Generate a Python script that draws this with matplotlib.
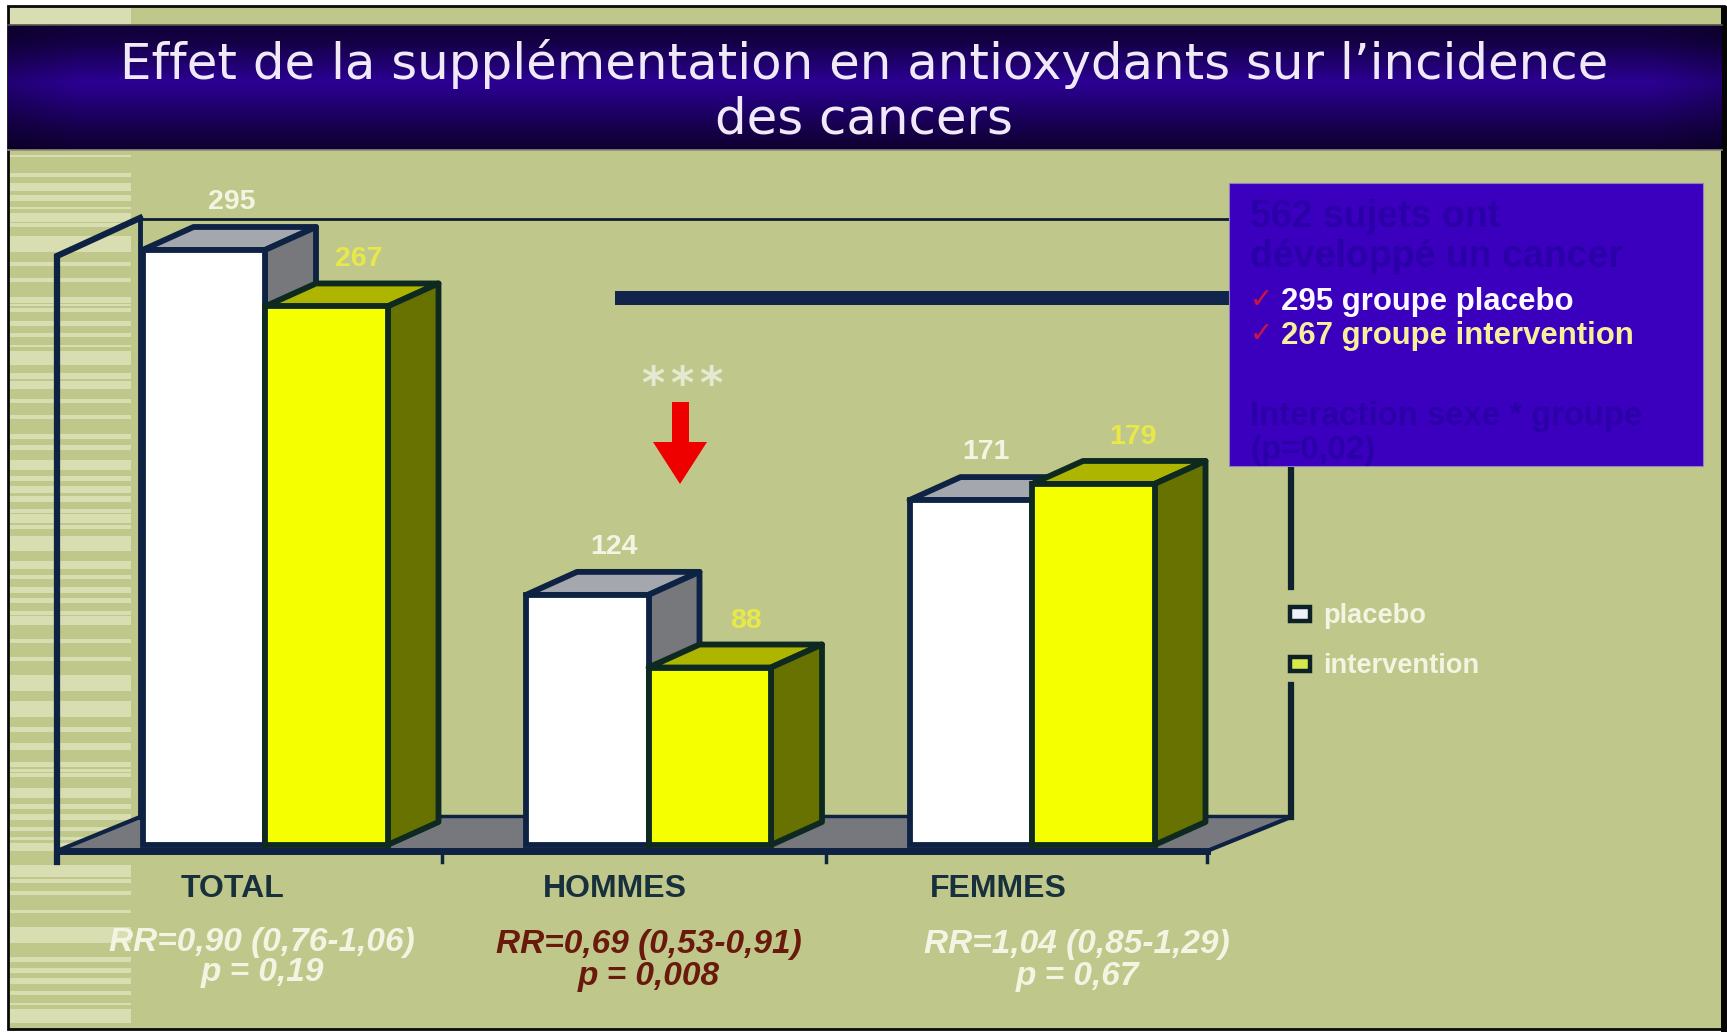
import numpy as np
import matplotlib as mp
mp.use("Agg")
import matplotlib.pyplot as plt
from matplotlib.patches import Polygon, Rectangle

plt.rcParams['font.family'] = ['Liberation Sans', 'DejaVu Sans']

# data
groups = ["TOTAL", "HOMMES", "FEMMES"]
placebo = [295, 124, 171]
intervention = [267, 88, 179]
rr_text = ["RR=0,90 (0,76-1,06)", "RR=0,69 (0,53-0,91)", "RR=1,04 (0,85-1,29)"]
p_text = ["p = 0,19", "p = 0,008", "p = 0,67"]
title_lines = ["Effet de la supplémentation en antioxydants sur l’incidence", "des cancers"]
series_names = ["placebo", "intervention"]

W, H = 1727, 1032
bg_col = "#bfc88a"
stripe_col = "#d8ddb2"
navy = "#0e2344"
white_txt = "#f3f4e2"
yellow_txt = "#e8e84a"

# light bands at the left of the slide (top, bottom in pixels)
stripes = [(8, 25),
           (155, 157), (173, 177), (183, 191), (195, 201), (207, 209), (213, 222), (223, 227), (236, 252),
           (262, 266), (278, 282), (297, 303), (304, 306), (308, 312), (321, 326), (333, 337), (345, 347),
           (351, 365), (373, 379), (381, 389), (399, 403), (415, 419), (434, 439), (445, 450),
           (460, 470), (476, 481), (486, 493), (496, 502), (509, 513), (514, 523), (525, 529), (536, 551),
           (561, 569), (575, 579), (587, 593), (598, 603), (611, 615), (616, 625), (639, 643), (657, 661),
           (675, 691), (701, 717), (727, 732), (743, 750),
           (762, 767), (769, 772), (773, 777), (788, 798), (804, 809), (814, 820), (827, 831), (837, 840),
           (843, 851), (865, 877), (879, 883), (891, 895), (910, 913), (927, 943), (957, 962), (968, 973),
           (978, 984), (991, 995), (1003, 1005), (1009, 1023)]

fig = plt.figure(figsize=(W/100, H/100), dpi=100, facecolor='white')

# background layer, in pixels
ax_bg = fig.add_axes([0, 0, 1, 1], zorder=0)
ax_bg.axis('off')
ax_bg.add_patch(Rectangle((8, 6), 1716, 1023, facecolor=bg_col, edgecolor='#0a0a0a', lw=2))
ax_bg.add_patch(Rectangle((1721, 6), 6, 1026, facecolor='#050505', edgecolor='none'))
for y0, y1 in stripes:
    ax_bg.add_patch(Rectangle((10, y0), 121, y1-y0, facecolor=stripe_col, edgecolor='none'))

yy = np.linspace(0, 1, 128)
xx = np.linspace(0, 1, 256)
v = np.interp(yy, [0, 0.12, 0.46, 0.8, 1], [0.38, 0.45, 1.0, 0.55, 0.32])
edge = np.clip(np.minimum(xx, 1-xx)/0.04, 0, 1)*0.2+0.8
shade = np.outer(v, edge)
banner = np.dstack([0.17*shade, 0.0*shade, 0.58*shade])
ax_bg.imshow(banner, extent=[8, 1722, 150, 25], aspect='auto', zorder=2)
ax_bg.plot([8, 1722], [150, 150], color='#8a8a80', lw=1.2, zorder=3)
ax_bg.plot([8, 1722], [25, 25], color='#55554a', lw=1.2, zorder=3)

# the 3D box of the chart
ax_bg.add_patch(Polygon([(57, 851), (140, 817), (1291, 817), (1207, 851)], closed=True,
                        facecolor='#77787e', edgecolor='none', zorder=3))
ax_bg.plot([57, 57, 140], [862, 256, 218], color=navy, lw=4.5, zorder=4, solid_joinstyle='miter')
ax_bg.plot([140, 1240], [219, 219], color='#0e1c30', lw=2, zorder=4)
ax_bg.plot([140, 140], [218, 817], color=navy, lw=3.5, zorder=4)
ax_bg.plot([140, 1291], [816, 816], color=navy, lw=2.5, zorder=4)
ax_bg.plot([57, 140], [851, 817], color=navy, lw=3, zorder=4)
ax_bg.plot([1207, 1291], [851, 817], color=navy, lw=3, zorder=4)
ax_bg.plot([57, 1207], [851, 851], color=navy, lw=5, zorder=4)
for xt in [442, 826, 1207]:
    ax_bg.plot([xt, xt], [851, 862], color=navy, lw=2.5, zorder=4)
ax_bg.plot([1291, 1291], [460, 587], color='#0e2230', lw=4.5, zorder=4)
ax_bg.plot([1291, 1291], [685, 817], color='#0e2230', lw=4.5, zorder=4)
ax_bg.set_xlim(0, W)
ax_bg.set_ylim(H, 0)

# bars, in data units: one group per unit, value scale 2.017 px per case
px_x = 383.5
px_y = 2.017
x0_px = 265.0
y0_px = 845.0
ax = fig.add_axes([0, 0, 1, 1], zorder=1, facecolor='none')
ax.axis('off')
ax.set_xlim(-x0_px/px_x, (W-x0_px)/px_x)
ax.set_ylim((y0_px-H)/px_y, y0_px/px_y)

bar_w = 122.5/px_x
dep_x = 51/px_x
dep_y = 23/px_y
outline = 4.2
x = np.arange(len(groups))

def bar3d(xpos, vals, front, top, side, edge):
    for xc, val in zip(xpos, vals):
        xl, xr = xc-bar_w/2, xc+bar_w/2
        ax.add_patch(Polygon([(xl, val), (xl+dep_x, val+dep_y), (xr+dep_x, val+dep_y), (xr, val)],
                             closed=True, facecolor=top, edgecolor=edge, lw=outline, joinstyle='round', zorder=3))
        ax.add_patch(Polygon([(xr, 0), (xr+dep_x, dep_y), (xr+dep_x, val+dep_y), (xr, val)],
                             closed=True, facecolor=side, edgecolor=edge, lw=outline, joinstyle='round', zorder=3))
    ax.bar(xpos, vals, width=bar_w, color=front, edgecolor=edge, linewidth=outline, zorder=3)

bar3d(x-bar_w/2, placebo, 'white', '#a5a7ae', '#77787c', navy)
# second pass so yellow covers the side of the white bar
for i in range(len(groups)):
    bar3d([x[i]+bar_w/2], [intervention[i]], '#f6ff00', '#adb500', '#687200', '#0e2a20')

label_dx = [28, 27, 15]
for i, val in enumerate(placebo):
    ax.annotate(str(val), (x[i]-bar_w/2, val), xytext=(label_dx[i]*0.72, 48*0.72), textcoords='offset points',
                ha='center', va='center', fontsize=20.5, fontweight='bold', color=white_txt, zorder=5)
label_dx2 = [33, 36, 40]
for i, val in enumerate(intervention):
    ax.annotate(str(val), (x[i]+bar_w/2, val), xytext=(label_dx2[i]*0.72, 47*0.72), textcoords='offset points',
                ha='center', va='center', fontsize=20.5, fontweight='bold', color=yellow_txt, zorder=5)

# overlay, in pixels
ov = fig.add_axes([0, 0, 1, 1], zorder=2, facecolor='none')
ov.axis('off')
ov.set_xlim(0, W)
ov.set_ylim(H, 0)

ov.text(864, 64, title_lines[0], ha='center', va='center', fontsize=35.9, color='#f0e9f8', family='DejaVu Sans')
ov.text(864, 119, title_lines[1], ha='center', va='center', fontsize=35.9, color='#f0e9f8', family='DejaVu Sans')

# thick rule and text box
ov.add_patch(Rectangle((615, 291), 620, 14, facecolor='#10244c', edgecolor='none'))
ov.add_patch(Rectangle((1229, 183), 474, 283, facecolor='#3a00be', edgecolor='#8f80c0', lw=0.8))
dim = '#2c00a8'
ov.text(1250, 217, "562 sujets ont", fontsize=27, fontweight='bold', color=dim, va='center')
ov.text(1250, 257, "développé un cancer", fontsize=27, fontweight='bold', color=dim, va='center')
ov.text(1250, 416, "Interaction sexe * groupe", fontsize=23.7, fontweight='bold', color=dim, va='center')
ov.text(1250, 450, "(p=0,02)", fontsize=23.7, fontweight='bold', color=dim, va='center')
ov.text(1250, 300, "\u2713", fontsize=20, fontweight='bold', color='#d0143c', va='center', family='DejaVu Sans')
ov.text(1250, 334, "\u2713", fontsize=20, fontweight='bold', color='#d0143c', va='center', family='DejaVu Sans')
ov.text(1281, 302, "295 groupe placebo", fontsize=22.4, fontweight='bold', color='#fbf8ff', va='center')
ov.text(1281, 336, "267 groupe intervention", fontsize=22.4, fontweight='bold', color='#f6f09a', va='center')

# arrow and stars
ov.add_patch(Polygon([(672, 402), (689, 402), (689, 442), (707, 442), (680, 484), (653, 442), (672, 442)],
                     closed=True, facecolor='#ee0000', edgecolor='none'))
for xs in [653, 682, 711]:
    ov.text(xs, 385, "*", fontsize=32, fontweight='bold', color='#e6e9d2', ha='center', va='center',
            family='DejaVu Sans')

# legend
for y0, fc, name in [(614, '#eef0fa', series_names[0]), (664, '#d8e84a', series_names[1])]:
    ov.add_patch(Rectangle((1290, y0-7), 20, 14, facecolor=fc, edgecolor='#0e2028', lw=3.2))
    ov.text(1323, y0+2, name, fontsize=19.6, fontweight='bold', color=white_txt, va='center')

# group labels and stats
label_x = [233, 615, 998]
stat_x = [262, 649, 1077]
stat_y = [(943, 973), (945, 977), (945, 977)]
stat_col = [white_txt, '#6a1a0c', white_txt]
for i in range(len(groups)):
    ov.text(label_x[i], 889, groups[i], fontsize=23, fontweight='bold', color='#18303c', ha='center', va='center')
    ov.text(stat_x[i], stat_y[i][0], rr_text[i], fontsize=24, fontweight='bold', style='italic',
            color=stat_col[i], ha='center', va='center')
    ov.text(stat_x[i], stat_y[i][1], p_text[i], fontsize=24, fontweight='bold', style='italic',
            color=stat_col[i], ha='center', va='center')

plt.savefig("out.png", dpi=100, facecolor='white')
